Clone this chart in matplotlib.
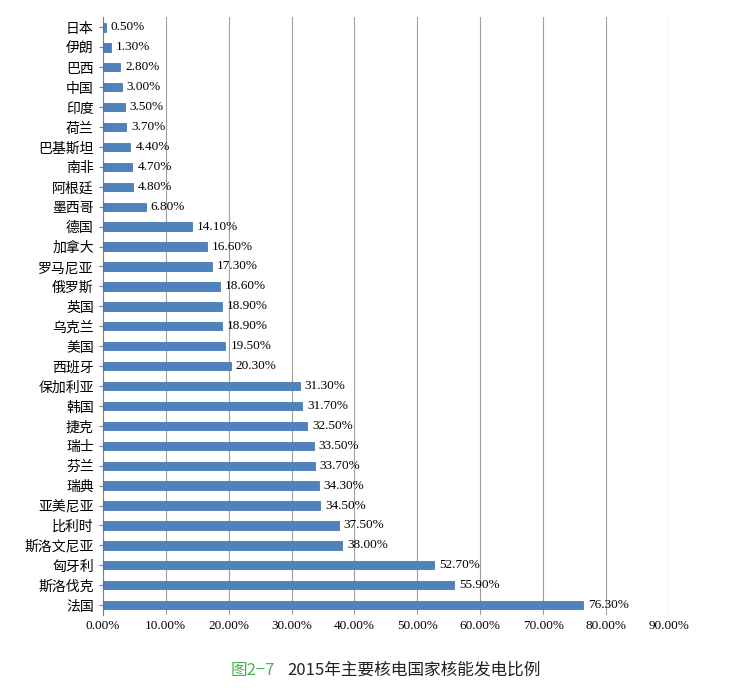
import matplotlib
matplotlib.use("Agg")
import matplotlib.pyplot as plt

plt.rcParams['font.family'] = ['Noto Sans CJK SC', 'DejaVu Sans']

countries = ["日本", "伊朗", "巴西", "中国", "印度", "荷兰", "巴基斯坦", "南非", "阿根廷", "墨西哥",
             "德国", "加拿大", "罗马尼亚", "俄罗斯", "英国", "乌克兰", "美国", "西班牙", "保加利亚", "韩国",
             "捷克", "瑞士", "芬兰", "瑞典", "亚美尼亚", "比利时", "斯洛文尼亚", "匈牙利", "斯洛伐克", "法国"]
shares = [0.5, 1.3, 2.8, 3.0, 3.5, 3.7, 4.4, 4.7, 4.8, 6.8,
          14.1, 16.6, 17.3, 18.6, 18.9, 18.9, 19.5, 20.3, 31.3, 31.7,
          32.5, 33.5, 33.7, 34.3, 34.5, 37.5, 38.0, 52.7, 55.9, 76.3]
ticks = [0, 10, 20, 30, 40, 50, 60, 70, 80, 90]

fig = plt.figure(figsize=(7.45, 6.99), dpi=100)
ax = fig.add_axes([0.138, 0.12, 0.76, 0.855])

y = list(range(len(countries)))
ax.barh(y, shares, height=0.42, color="#4F81BD", edgecolor="#3A6CA8", linewidth=0.5, zorder=3)
for yi, v in zip(y, shares):
    ax.text(v + 0.8, yi, f"{v:.2f}%", va="center", ha="left", fontsize=9.5,
            family=["Liberation Serif", "DejaVu Serif"])

ax.set_ylim(len(countries) - 0.5, -0.5)
ax.set_xlim(0, 90)
ax.set_xticks(ticks)
ax.set_xticklabels([f"{t:.2f}%" for t in ticks], family=["Liberation Serif", "DejaVu Serif"], fontsize=9.5)
ax.set_yticks(y)
ax.set_yticklabels(countries, fontsize=10)
ax.xaxis.grid(True, color="#a0a0a0", linewidth=0.8, zorder=0)
for s in ["top", "right", "bottom"]:
    ax.spines[s].set_visible(False)
ax.spines["left"].set_color("#808080")
ax.tick_params(axis="both", length=0)
ax.tick_params(axis="y", length=3, color="#808080")

fig.text(0.31, 0.035, "图2−7", color="#4CAF50", fontsize=12, ha="left")
fig.text(0.385, 0.035, "2015年主要核电国家核能发电比例", color="#222222", fontsize=12, ha="left",
         family=["Noto Sans CJK SC", "DejaVu Sans"])

fig.savefig("out.png", dpi=100)
